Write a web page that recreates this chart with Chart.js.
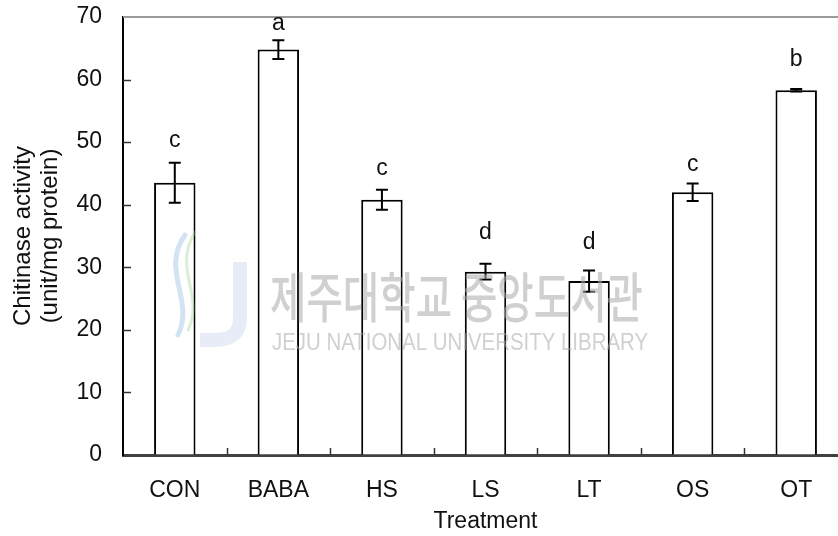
<!DOCTYPE html>
<html>
<head>
<meta charset="utf-8">
<script src="https://cdn.jsdelivr.net/npm/chart.js@4/dist/chart.umd.min.js"></script>
<style>
  html, body { margin: 0; padding: 0; background: #fff; overflow: hidden; }
  #wrap { position: relative; width: 850px; height: 536px; }
</style>
</head>
<body>
<div id="wrap"><canvas id="c"></canvas></div>
<script>
const categories = ['CON', 'BABA', 'HS', 'LS', 'LT', 'OS', 'OT'];
const activity = [43.5, 64.8, 40.8, 29.3, 27.8, 42.0, 58.3];
const errors = [3.2, 1.5, 1.6, 1.25, 1.7, 1.4, 0.2];
const letters = ['c', 'a', 'c', 'd', 'd', 'c', 'b'];
const letterLevel = [49.3, 68.0, 44.8, 34.6, 32.9, 45.4, 62.1];
const yMin = 0, yMax = 70, yStep = 10;
const yTitle = ['Chitinase activity', '(unit/mg protein)'];
const xTitle = 'Treatment';
const wmKorean = '제주대학교 중앙도서관';
const wmEnglish = 'JEJU NATIONAL UNIVERSITY LIBRARY';

const FONT = "'Liberation Sans', Arial, sans-serif";

const decor = {
  id: 'decor',
  afterDatasetsDraw(chart) {
    const ctx = chart.ctx;
    const x = chart.scales.x, y = chart.scales.y;
    const area = chart.chartArea;
    ctx.save();
    // top frame line (gray)
    ctx.strokeStyle = '#9a9a9a';
    ctx.lineWidth = 2;
    ctx.beginPath();
    ctx.moveTo(area.left, y.getPixelForValue(yMax));
    ctx.lineTo(area.right + 5, y.getPixelForValue(yMax));
    ctx.stroke();
    // inward y ticks
    ctx.strokeStyle = '#333';
    ctx.lineWidth = 1.5;
    for (let v = yMin + yStep; v < yMax; v += yStep) {
      const py = Math.round(y.getPixelForValue(v)) + 0.5;
      ctx.beginPath();
      ctx.moveTo(area.left, py);
      ctx.lineTo(area.left + 8, py);
      ctx.stroke();
    }
    // inward x ticks between categories
    for (let i = 0; i < categories.length; i++) {
      const px = Math.round(x.getPixelForValue(i + 0.5)) + 0.5;
      ctx.beginPath();
      ctx.moveTo(px, area.bottom);
      ctx.lineTo(px, area.bottom - 7);
      ctx.stroke();
    }
    // error bars
    ctx.strokeStyle = '#000';
    ctx.lineWidth = 2;
    activity.forEach((v, i) => {
      const px = x.getPixelForValue(i);
      const hi = y.getPixelForValue(v + errors[i]);
      const lo = y.getPixelForValue(v - errors[i]);
      ctx.beginPath();
      ctx.moveTo(px, hi); ctx.lineTo(px, lo);
      ctx.moveTo(px - 6, hi); ctx.lineTo(px + 6, hi);
      ctx.moveTo(px - 6, lo); ctx.lineTo(px + 6, lo);
      ctx.stroke();
    });
    // significance letters
    ctx.fillStyle = '#111';
    ctx.font = '23px ' + FONT;
    ctx.textAlign = 'center';
    ctx.textBaseline = 'alphabetic';
    letters.forEach((t, i) => {
      ctx.fillText(t, x.getPixelForValue(i), y.getPixelForValue(letterLevel[i]));
    });
    ctx.restore();
  },
  afterDraw(chart) {
    // faint watermark overlay
    const ctx = chart.ctx;
    ctx.save();
    // logo (simplified)
    ctx.globalAlpha = 0.35;
    ctx.lineCap = 'round';
    ctx.strokeStyle = '#7fb2e0';
    ctx.lineWidth = 5;
    ctx.beginPath();
    ctx.moveTo(185, 235); ctx.bezierCurveTo(160, 270, 195, 300, 178, 335);
    ctx.stroke();
    ctx.strokeStyle = '#9acd8a';
    ctx.lineWidth = 3;
    ctx.beginPath();
    ctx.moveTo(195, 232); ctx.bezierCurveTo(172, 270, 205, 295, 188, 330);
    ctx.stroke();
    ctx.strokeStyle = '#b9c9e8';
    ctx.lineWidth = 14;
    ctx.lineCap = 'butt';
    ctx.beginPath();
    ctx.moveTo(240, 262); ctx.lineTo(240, 318);
    ctx.quadraticCurveTo(240, 340, 215, 340); ctx.lineTo(200, 340);
    ctx.stroke();
    ctx.globalAlpha = 1;
    // Korean text
    ctx.fillStyle = 'rgba(170,170,170,0.55)';
    ctx.textBaseline = 'alphabetic';
    ctx.textAlign = 'left';
    ctx.font = "500 54px 'Noto Sans CJK KR', sans-serif";
    let w = ctx.measureText(wmKorean).width;
    ctx.save();
    ctx.translate(270, 318);
    ctx.scale(373 / w, 1);
    ctx.fillText(wmKorean, 0, 0);
    ctx.restore();
    ctx.font = "24px 'Liberation Sans', Arial, sans-serif";
    w = ctx.measureText(wmEnglish).width;
    ctx.save();
    ctx.translate(272, 350);
    ctx.scale(376 / w, 1);
    ctx.fillText(wmEnglish, 0, 0);
    ctx.restore();
    ctx.restore();
  }
};

new Chart(document.getElementById('c'), {
  type: 'bar',
  data: {
    labels: categories,
    datasets: [{
      data: activity,
      backgroundColor: '#ffffff',
      borderColor: '#000000',
      borderWidth: 2,
      barPercentage: 0.4,
      categoryPercentage: 1.0
    }]
  },
  options: {
    responsive: true,
    maintainAspectRatio: false,
    animation: false,
    events: [],
    layout: { padding: { top: 17, right: 2, bottom: 0, left: 0 } },
    plugins: { legend: { display: false }, tooltip: { enabled: false } },
    scales: {
      x: {
        grid: { display: false, drawTicks: false },
        border: { display: true, color: '#404040', width: 3 },
        ticks: { color: '#111', font: { family: FONT, size: 23 }, padding: 22, maxRotation: 0 },
        title: { display: true, text: xTitle, color: '#111', font: { family: FONT, size: 23 }, padding: { top: 0, bottom: 1 } },
        afterFit(s) { s.height = 81; s.paddingLeft = 0; s.paddingRight = 0; }
      },
      y: {
        min: yMin, max: yMax,
        grid: { drawOnChartArea: false, drawTicks: false },
        border: { display: true, color: '#000', width: 2 },
        ticks: { stepSize: yStep, color: '#111', font: { family: FONT, size: 23 }, padding: 21 },
        title: { display: true, text: yTitle, color: '#111', font: { family: FONT, size: 24, lineHeight: 1.125 }, padding: { top: 10, bottom: 0 } },
        afterFit(s) { s.width = 123; s.paddingTop = 0; s.paddingBottom = 0; }
      }
    }
  },
  plugins: [decor]
});
</script>
</body>
</html>
